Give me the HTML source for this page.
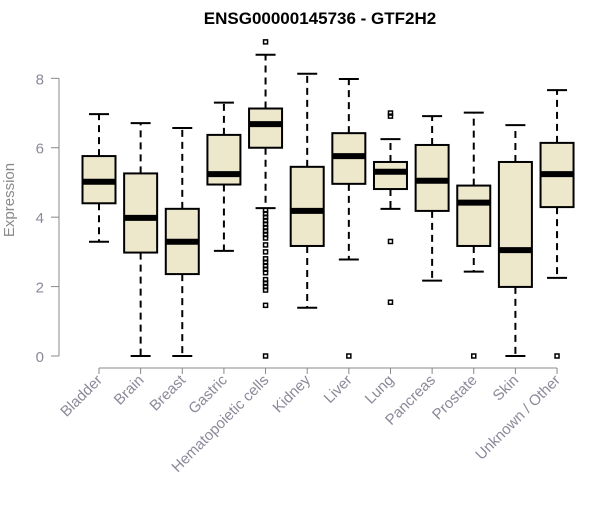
<!DOCTYPE html>
<html><head><meta charset="utf-8"><style>
body{margin:0;background:#fff;}
svg text{font-family:"Liberation Sans",sans-serif;}
</style></head><body>
<svg id="chart" width="600" height="500" viewBox="0 0 600 500">
<text x="320" y="24" text-anchor="middle" font-size="17" font-weight="bold">ENSG00000145736 - GTF2H2</text>
<text transform="translate(14,200) rotate(-90)" text-anchor="middle" font-size="15" fill="#8a8a8a">Expression</text>
<g id="axes"></g>
<g id="boxes"></g>
</svg>
<script>
const categories=["Bladder","Brain","Breast","Gastric","Hematopoietic cells","Kidney","Liver","Lung","Pancreas","Prostate","Skin","Unknown / Other"];
const whiskerLow=[3.29,0,0,3.03,4.26,1.39,2.78,4.24,2.17,2.43,0,2.25];
const q1=[4.40,2.98,2.36,4.94,6.0,3.17,4.96,4.81,4.18,3.17,1.99,4.29];
const median=[5.02,3.98,3.29,5.24,6.68,4.18,5.76,5.31,5.05,4.42,3.05,5.24];
const q3=[5.76,5.26,4.24,6.37,7.13,5.45,6.42,5.59,6.08,4.91,5.59,6.14];
const whiskerHigh=[6.97,6.71,6.57,7.30,8.68,8.13,7.98,6.25,6.91,7.01,6.65,7.66];
const outliers=[[],[],[],[],[9.05,4.2,4.1,4.0,3.9,3.8,3.7,3.6,3.5,3.4,3.2,3.0,2.8,2.7,2.6,2.5,2.4,2.2,2.1,2.0,1.9,1.46,0],[],[0],[7.0,6.91,3.30,1.55],[],[0],[],[0]];
const yTicks=[0,2,4,6,8];
const NS="http://www.w3.org/2000/svg";
const y=v=>356-34.71*v;
const x=i=>99+41.64*i;
function mk(tag,attrs,parent){const e=document.createElementNS(NS,tag);for(const k in attrs)e.setAttribute(k,attrs[k]);parent.appendChild(e);return e;}
const axes=document.getElementById('axes'),boxes=document.getElementById('boxes');
let yl=mk('line',{x1:59,x2:59,y1:y(8),y2:y(0),stroke:'#888','stroke-width':1},axes);


yTicks.forEach(t=>{
  let tl=mk('line',{x1:51,x2:59,y1:y(t),y2:y(t),stroke:'#888'},axes);
  
  
  let tx=mk('text',{x:44,y:y(t)+6,'text-anchor':'end','font-size':15,fill:'#8a8a9a'},axes);
  tx.textContent=t;
  
  
});
let xl=mk('line',{x1:x(0),x2:x(categories.length-1),y1:368,y2:368,stroke:'#888'},axes);


categories.forEach((c,i)=>{
  let tl=mk('line',{x1:x(i),x2:x(i),y1:368,y2:374,stroke:'#888'},axes);
  
  
  let tx=mk('text',{transform:`translate(${x(i)+4},${381}) rotate(-45)`,'text-anchor':'end','font-size':15,fill:'#8a8a9a'},axes);
  tx.textContent=c;
  
  
  const g=mk('g',{},boxes);
  
  
  const cx=x(i),hw=16.5,cw=10;
  mk('line',{x1:cx,x2:cx,y1:y(q3[i]),y2:y(whiskerHigh[i]),stroke:'#000','stroke-width':2,'stroke-dasharray':'7,5'},g);
  mk('line',{x1:cx,x2:cx,y1:y(q1[i]),y2:y(whiskerLow[i]),stroke:'#000','stroke-width':2,'stroke-dasharray':'7,5'},g);
  mk('line',{x1:cx-cw,x2:cx+cw,y1:y(whiskerHigh[i]),y2:y(whiskerHigh[i]),stroke:'#000','stroke-width':2},g);
  mk('line',{x1:cx-cw,x2:cx+cw,y1:y(whiskerLow[i]),y2:y(whiskerLow[i]),stroke:'#000','stroke-width':2},g);
  mk('rect',{x:cx-hw,y:y(q3[i]),width:2*hw,height:y(q1[i])-y(q3[i]),fill:'#ede7cc',stroke:'#000','stroke-width':2},g);
  mk('line',{x1:cx-hw,x2:cx+hw,y1:y(median[i]),y2:y(median[i]),stroke:'#000','stroke-width':6},g);
  outliers[i].forEach(v=>{mk('rect',{x:cx-2,y:y(v)-2,width:4,height:4,fill:'none',stroke:'#000','stroke-width':1.5},g);});
});
</script>
</body></html>
